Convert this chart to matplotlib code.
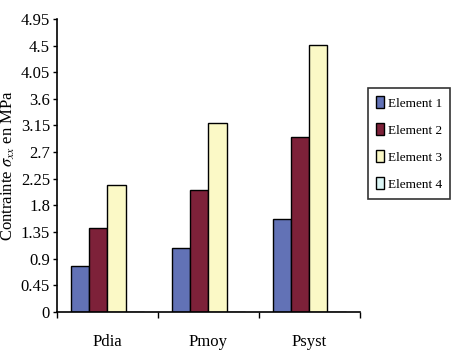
import numpy as np
import matplotlib.pyplot as plt

plt.rcParams['font.family'] = 'Liberation Serif'
plt.rcParams['mathtext.fontset'] = 'stix'

categories = ['Pdia', 'Pmoy', 'Psyst']
series = ['Element 1', 'Element 2', 'Element 3', 'Element 4']
values = [
    [0.78, 1.08, 1.57],
    [1.42, 2.06, 2.96],
    [2.15, 3.19, 4.51],
    [0.0, 0.0, 0.0],
]
colors = ['#6272b6', '#7d2139', '#fbf9c6', '#dbf6f6']
yticks = [0, 0.45, 0.9, 1.35, 1.8, 2.25, 2.7, 3.15, 3.6, 4.05, 4.5, 4.95]

fig = plt.figure(figsize=(4.56, 3.5), dpi=100)
ax = fig.add_axes([0.125, 0.109, 0.664, 0.837])

x = np.arange(len(categories))
w = 0.18
for i, (name, vals) in enumerate(zip(series, values)):
    ax.bar(x + (i - 1.5) * w, vals, w, color=colors[i], edgecolor='black',
           linewidth=1.0, label=name)

ax.set_xlim(-0.5, 2.5)
ax.set_ylim(0, 4.95)
ax.set_yticks(yticks)
ax.set_yticklabels([f'{t:g}' for t in yticks], fontsize=12)
ax.set_xticks([-0.5, 0.5, 1.5, 2.5])
ax.set_xticklabels([])
ax.set_xticks(x, minor=True)
ax.set_xticklabels(categories, minor=True, fontsize=12)
ax.tick_params(axis='x', which='minor', length=0, pad=16)
ax.tick_params(axis='x', which='major', direction='out', length=4, width=1)
ax.tick_params(axis='y', direction='out', length=3, width=1, pad=2)
ax.spines['top'].set_visible(False)
ax.spines['right'].set_visible(False)
ax.spines['left'].set_linewidth(1.2)
ax.spines['bottom'].set_linewidth(1.2)
ax.set_ylabel(r'Contrainte $\sigma_{xx}$ en MPa', fontsize=12, labelpad=3)

leg = fig.legend(loc='upper left', bbox_to_anchor=(0.807, 0.749), fontsize=9.5,
                 frameon=True, fancybox=False, edgecolor='black',
                 borderaxespad=0, handlelength=0.6, handleheight=1.1,
                 handletextpad=0.3, labelspacing=1.0, borderpad=0.6)
leg.get_frame().set_linewidth(1.2)

fig.savefig('out.png', dpi=100)
